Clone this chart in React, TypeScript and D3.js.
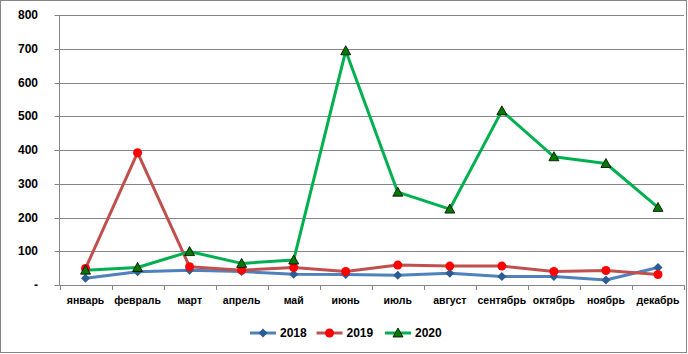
import * as d3 from 'd3';
import React from 'react';

const months = ['январь', 'февраль', 'март', 'апрель', 'май', 'июнь', 'июль', 'август', 'сентябрь', 'октябрь', 'ноябрь', 'декабрь'];
const values2018 = [20, 39, 44, 40, 32, 31, 29, 35, 25, 25, 15, 52];
const values2019 = [49, 392, 54, 44, 52, 40, 59, 56, 56, 40, 43, 31];
const values2020 = [44, 52, 99, 64, 74, 694, 275, 225, 516, 380, 360, 230];
const yTicks = [0, 100, 200, 300, 400, 500, 600, 700, 800];

const series = [
  { name: '2018', values: values2018, line: '#4F81BD', fill: '#2C5C94', marker: 'diamond' },
  { name: '2019', values: values2019, line: '#C0504D', fill: '#FF0000', marker: 'circle' },
  { name: '2020', values: values2020, line: '#00B050', fill: '#007A00', marker: 'triangle' },
];

const W = 688;
const H = 354;
const margin = { top: 15, right: 4, bottom: 69, left: 59.5 };
const font = '"Liberation Sans", Arial, sans-serif';

function Marker({ kind, x, y, fill }: { kind: string; x: number; y: number; fill: string }) {
  if (kind === 'circle') return <circle cx={x} cy={y} r={4.5} fill={fill} />;
  if (kind === 'diamond') {
    const s = 4.5;
    return <path d={`M${x},${y - s}L${x + s},${y}L${x},${y + s}L${x - s},${y}Z`} fill={fill} />;
  }
  const s = 5;
  return (
    <path
      d={`M${x},${y - s}L${x + s},${y + s * 0.8}L${x - s},${y + s * 0.8}Z`}
      fill={fill}
      stroke="#000"
      strokeWidth={0.8}
    />
  );
}

export default function App() {
  const x = d3
    .scaleBand<string>()
    .domain(months)
    .range([margin.left, W - margin.right]);
  const y = d3
    .scaleLinear()
    .domain([0, 800])
    .range([H - margin.bottom, margin.top]);
  const line = d3
    .line<number>()
    .x((_, i) => (x(months[i]) as number) + x.bandwidth() / 2)
    .y(d => y(d));

  const x0 = margin.left;
  const x1 = W - margin.right;
  const yb = y(0);

  const legendX = [250, 316.5, 385];

  return (
    <svg width={W} height={H} style={{ position: 'absolute', left: 0, top: 0 }} fontFamily={font}>
      <rect x={0.5} y={0.5} width={W - 2} height={H - 2} fill="#fff" stroke="#868686" />
      {yTicks.map(t => (
        <g key={t}>
          <line x1={x0 - 5} x2={x1} y1={Math.round(y(t)) + 0.5} y2={Math.round(y(t)) + 0.5} stroke="#868686" />
          <text x={38} y={y(t)} dy="0.35em" textAnchor="end" fontSize={12} fontWeight="bold">
            {t === 0 ? '-' : t}
          </text>
        </g>
      ))}
      <line x1={x0} x2={x0} y1={margin.top} y2={yb} stroke="#868686" />
      {months.map((m, i) => (
        <g key={m}>
          <line
            x1={Math.round(x(m) as number) + 0.5}
            x2={Math.round(x(m) as number) + 0.5}
            y1={yb}
            y2={yb + 5}
            stroke="#868686"
          />
          {i === months.length - 1 && (
            <line x1={x1 + 0.5} x2={x1 + 0.5} y1={yb} y2={yb + 5} stroke="#868686" />
          )}
          <text
            x={(x(m) as number) + x.bandwidth() / 2}
            y={300}
            dy="0.35em"
            textAnchor="middle"
            fontSize={10.5}
            fontWeight="bold"
          >
            {m}
          </text>
        </g>
      ))}
      {series.map(s => (
        <path key={s.name} d={line(s.values) || ''} fill="none" stroke={s.line} strokeWidth={3} strokeLinejoin="round" />
      ))}
      {series.map(s => (
        <g key={s.name + 'm'}>
          {s.values.map((v, i) => (
            <Marker
              key={i}
              kind={s.marker}
              x={(x(months[i]) as number) + x.bandwidth() / 2}
              y={y(v)}
              fill={s.fill}
            />
          ))}
        </g>
      ))}
      {series.map((s, i) => (
        <g key={s.name + 'l'}>
          <line x1={legendX[i]} x2={legendX[i] + 26} y1={333} y2={333} stroke={s.line} strokeWidth={3} />
          <Marker kind={s.marker} x={legendX[i] + 13} y={333} fill={s.fill} />
          <text x={legendX[i] + 30} y={333} dy="0.35em" fontSize={12} fontWeight="bold">
            {s.name}
          </text>
        </g>
      ))}
    </svg>
  );
}
